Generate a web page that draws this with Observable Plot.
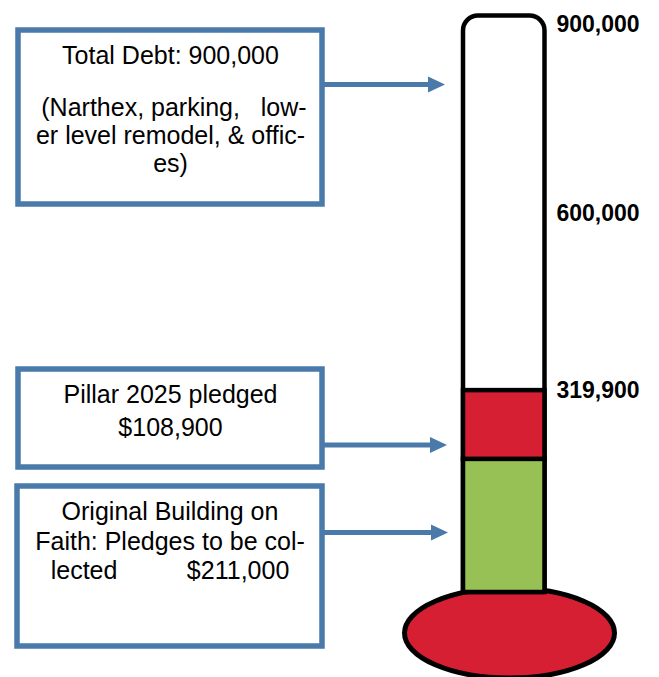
<!DOCTYPE html>
<html><head><meta charset="utf-8">
<script src="https://cdn.jsdelivr.net/npm/d3@7"></script>
<script src="https://cdn.jsdelivr.net/npm/@observablehq/plot@0.6"></script>
<style>body{margin:0;background:#fff}</style>
</head><body><div id="chart"></div>
<script>
// ---- data ----
const segments = ["Original Building on Faith", "Pillar 2025"];
const segmentValues = [211000, 108900];
const segmentColors = ["#97c154", "#d61f33"];
const tickValues = [900000, 600000, 319900];
const totalDebt = 900000;
const boxTexts = [
  ["Total Debt: 900,000", " (Narthex, parking,   low-", "er level remodel, & offic-", "es)"],
  ["Pillar 2025 pledged", "$108,900"],
  ["Original Building on", "Faith: Pledges to be col-", "lected          $211,000"]
];

// ---- layout (pixels) ----
const W = 659, H = 677;
const tube = {x1: 463, x2: 544.5, top: 15.5, r: 15, sw: 4.5};
const bulb = {cx: 509.5, cy: 633, rx: 105, ry: 45, sw: 5};
const boxes = [
  {x1: 18, x2: 322, y1: 30, y2: 204, arrowY: 84.5, tipX: 445, baselines: [64, 116, 144, 172]},
  {x1: 18, x2: 322, y1: 369, y2: 467, arrowY: 445, tipX: 447, baselines: [403, 436]},
  {x1: 17, x2: 322, y1: 486, y2: 646, arrowY: 532.5, tipX: 448, baselines: [520, 550, 579]}
];
const blue = "#4a7aa9";
const font = "'Liberation Sans', Arial, sans-serif";

// cumulative segment table
let acc = 0;
const segData = segments.map((name, i) => {
  const d = {name, y1: acc, y2: acc + segmentValues[i], color: segmentColors[i]};
  acc += segmentValues[i];
  return d;
});

function bulbMark() {
  return d3.create("svg:ellipse").attr("cx", bulb.cx).attr("cy", bulb.cy).attr("rx", bulb.rx).attr("ry", bulb.ry)
    .attr("fill", segmentColors[1]).attr("stroke", "#000").attr("stroke-width", bulb.sw).node();
}

function tubeMark(index, scales) {
  const yb = scales.y(0);
  const {x1, x2, top, r} = tube;
  const p = d3.path();
  p.moveTo(x1, yb);
  p.lineTo(x1, top + r);
  p.arcTo(x1, top, x1 + r, top, r);
  p.lineTo(x2 - r, top);
  p.arcTo(x2, top, x2, top + r, r);
  p.lineTo(x2, yb);
  p.closePath();
  return d3.create("svg:path").attr("d", p.toString()).attr("fill", "#fff")
    .attr("stroke", "#000").attr("stroke-width", tube.sw).attr("stroke-linejoin", "round").node();
}

function boxesMark() {
  const g = d3.create("svg:g");
  boxes.forEach((b, i) => {
    g.append("rect").attr("x", b.x1).attr("y", b.y1).attr("width", b.x2 - b.x1).attr("height", b.y2 - b.y1)
      .attr("fill", "#fff").attr("stroke", blue).attr("stroke-width", 5.5);
    g.append("line").attr("x1", b.x2 + 2).attr("x2", b.tipX - 14).attr("y1", b.arrowY).attr("y2", b.arrowY)
      .attr("stroke", blue).attr("stroke-width", 5);
    g.append("path").attr("d", `M${b.tipX},${b.arrowY}L${b.tipX - 17},${b.arrowY - 8}L${b.tipX - 17},${b.arrowY + 8}Z`)
      .attr("fill", blue);
    const cx = (b.x1 + b.x2) / 2 + 0.5;
    boxTexts[i].forEach((line, j) => {
      g.append("text").attr("x", cx).attr("y", b.baselines[j]).attr("text-anchor", "middle")
        .attr("font-family", font).attr("font-size", 25).attr("fill", "#000")
        .attr("style", "white-space:pre").text(line);
    });
  });
  return g.node();
}

const chart = Plot.plot({
  width: W, height: H, margin: 0,
  y: {domain: [0, totalDebt], range: [592, 24], axis: null},
  marks: [
    bulbMark,
    tubeMark,
    Plot.rect(segData, {y1: "y1", y2: "y2", fill: "color", stroke: "#000", strokeWidth: tube.sw,
      insetLeft: tube.x1, insetRight: W - tube.x2}),
    Plot.text(tickValues, {y: d => d, text: d => d3.format(",")(d), frameAnchor: "left", dx: 556,
      textAnchor: "start", lineAnchor: "middle", fontSize: 23, fontWeight: "bold", fill: "#000",
      fontFamily: font}),
    boxesMark
  ]
});
chart.style.fontFamily = font;
document.getElementById("chart").append(chart);
</script>
</body></html>
